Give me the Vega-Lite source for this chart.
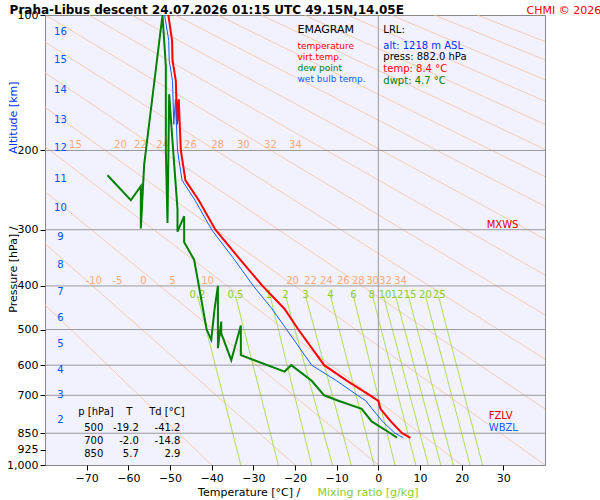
{
"$schema":"https://vega.github.io/schema/vega-lite/v6.json",
"autosize":"none","width":500,"height":450,
"padding":{"left":45,"top":15,"right":55,"bottom":35},
"background":"white",
"view":{"fill":"#f2f2ff","stroke":"#888"},
"encoding":{
 "x":{"field":"t","type":"quantitative","scale":{"domain":[-80,40],"nice":false,"zero":false},"axis":{"values":[-70,-60,-50,-40,-30,-20,-10,0,10,20,30],"title":null,"grid":false,"labelFont":"DejaVu Sans","labelFontSize":11,"labelColor":"black","tickColor":"black","domain":false}},
 "y":{"field":"p","type":"quantitative","scale":{"type":"log","domain":[100,1000],"reverse":true,"nice":false},"axis":{"values":[100,200,300,400,500,600,700,850,925,1000],"title":null,"grid":false,"labelFont":"DejaVu Sans","labelFontSize":11,"labelColor":"black","tickColor":"black","domain":false}}
},
"layer":[
 {"data":{"values":[
  {"g":"a1","t":-40,"p":1000},{"g":"a1","t":-152.4,"p":100},
  {"g":"a2","t":-20,"p":1000},{"g":"a2","t":-142,"p":100},
  {"g":"a3","t":0,"p":1000},{"g":"a3","t":-131.7,"p":100},
  {"g":"a4","t":20,"p":1000},{"g":"a4","t":-121.3,"p":100},
  {"g":"a5","t":40,"p":1000},{"g":"a5","t":-111,"p":100},
  {"g":"a6","t":60,"p":1000},{"g":"a6","t":-100.6,"p":100},
  {"g":"a7","t":80,"p":1000},{"g":"a7","t":-90.2,"p":100},
  {"g":"a8","t":100,"p":1000},{"g":"a8","t":-79.9,"p":100},
  {"g":"a9","t":120,"p":1000},{"g":"a9","t":-69.5,"p":100},
  {"g":"a10","t":140,"p":1000},{"g":"a10","t":-59.2,"p":100},
  {"g":"a11","t":160,"p":1000},{"g":"a11","t":-48.8,"p":100},
  {"g":"a12","t":180,"p":1000},{"g":"a12","t":-38.5,"p":100},
  {"g":"a13","t":200,"p":1000},{"g":"a13","t":-28.1,"p":100},
  {"g":"a14","t":220,"p":1000},{"g":"a14","t":-17.8,"p":100},
  {"g":"a15","t":240,"p":1000},{"g":"a15","t":-7.4,"p":100},
  {"g":"a16","t":260,"p":1000},{"g":"a16","t":3,"p":100},
  {"g":"a17","t":280,"p":1000},{"g":"a17","t":13.4,"p":100},
  {"g":"a18","t":300,"p":1000},{"g":"a18","t":23.7,"p":100}
 ]},"mark":{"type":"line","clip":true,"color":"#f5c09a","strokeWidth":0.8},"encoding":{"detail":{"field":"g"}}},
 {"data":{"values":[
  {"g":"w1","t":-43.4,"p":420},{"g":"w1","t":-33,"p":1000},
  {"g":"w2","t":-34.3,"p":420},{"g":"w2","t":-24,"p":1000},
  {"g":"w3","t":-26,"p":420},{"g":"w3","t":-16,"p":1000},
  {"g":"w4","t":-22.3,"p":420},{"g":"w4","t":-11,"p":1000},
  {"g":"w5","t":-17.5,"p":420},{"g":"w5","t":-6.5,"p":1000},
  {"g":"w6","t":-11.5,"p":420},{"g":"w6","t":-1,"p":1000},
  {"g":"w7","t":-6,"p":420},{"g":"w7","t":4,"p":1000},
  {"g":"w8","t":-1.4,"p":420},{"g":"w8","t":9,"p":1000},
  {"g":"w9","t":1.2,"p":420},{"g":"w9","t":12,"p":1000},
  {"g":"w10","t":4.1,"p":420},{"g":"w10","t":15,"p":1000},
  {"g":"w11","t":7.2,"p":420},{"g":"w11","t":18,"p":1000},
  {"g":"w12","t":11.3,"p":420},{"g":"w12","t":22,"p":1000},
  {"g":"w13","t":14.4,"p":420},{"g":"w13","t":25,"p":1000}
 ]},"mark":{"type":"line","clip":true,"color":"#a6d94a","strokeWidth":0.9},"encoding":{"detail":{"field":"g"}}},
 {"data":{"values":[{"p":200},{"p":300},{"p":400},{"p":500},{"p":600},{"p":700},{"p":850}]},
  "mark":{"type":"rule","color":"#999","strokeWidth":1},"encoding":{"x":null}},
 {"data":{"values":[{"t":0}]},"mark":{"type":"rule","color":"#999","strokeWidth":1},"encoding":{"y":null}},
 {"data":{"values":[
  {"t":-72.7,"p":200,"s":"15"},{"t":-61.9,"p":200,"s":"20"},{"t":-57.1,"p":200,"s":"22"},{"t":-51.8,"p":200,"s":"24"},{"t":-45.1,"p":200,"s":"26"},{"t":-38.6,"p":200,"s":"28"},{"t":-32.4,"p":200,"s":"30"},{"t":-25.9,"p":200,"s":"32"},{"t":-19.9,"p":200,"s":"34"},
  {"t":-68.3,"p":400,"s":"-10"},{"t":-62.6,"p":400,"s":"-5"},{"t":-56.4,"p":400,"s":"0"},{"t":-49.4,"p":400,"s":"5"},{"t":-41,"p":400,"s":"10"},{"t":-20.6,"p":400,"s":"20"},{"t":-16.3,"p":400,"s":"22"},{"t":-12.5,"p":400,"s":"24"},{"t":-8.4,"p":400,"s":"26"},{"t":-4.8,"p":400,"s":"28"},{"t":-1.4,"p":400,"s":"30"},{"t":1.7,"p":400,"s":"32"},{"t":5.3,"p":400,"s":"34"}
 ]},"mark":{"type":"text","color":"#f5a878","fontSize":10,"font":"DejaVu Sans","baseline":"bottom"},"encoding":{"text":{"field":"s"}}},
 {"data":{"values":[
  {"t":-43.4,"p":418,"s":"0.2"},{"t":-34.3,"p":418,"s":"0.5"},{"t":-26.3,"p":418,"s":"1"},{"t":-22.3,"p":418,"s":"2"},{"t":-17.5,"p":418,"s":"3"},{"t":-11.5,"p":418,"s":"4"},{"t":-6,"p":418,"s":"6"},{"t":-1.6,"p":418,"s":"8"},{"t":1.6,"p":418,"s":"10"},{"t":4.5,"p":418,"s":"12"},{"t":7.6,"p":418,"s":"15"},{"t":11.3,"p":418,"s":"20"},{"t":14.6,"p":418,"s":"25"}
 ]},"mark":{"type":"text","color":"#8acb2a","fontSize":10,"font":"DejaVu Sans"},"encoding":{"text":{"field":"s"}}},
 {"data":{"values":[
  {"t":-76.3,"p":109,"s":"16"},{"t":-76.3,"p":126,"s":"15"},{"t":-76.3,"p":147,"s":"14"},{"t":-76.3,"p":171,"s":"13"},{"t":-76.3,"p":198,"s":"12"},{"t":-76.3,"p":231,"s":"11"},{"t":-76.3,"p":269,"s":"10"},{"t":-76.3,"p":311,"s":"9"},{"t":-76.3,"p":360,"s":"8"},{"t":-76.3,"p":413,"s":"7"},{"t":-76.3,"p":472,"s":"6"},{"t":-76.3,"p":538,"s":"5"},{"t":-76.3,"p":616,"s":"4"},{"t":-76.3,"p":698,"s":"3"},{"t":-76.3,"p":793,"s":"2"}
 ]},"mark":{"type":"text","color":"#0050ff","fontSize":10,"font":"DejaVu Sans"},"encoding":{"text":{"field":"s"}}},
 {"data":{"values":[
  {"t":-50.4,"p":100},{"t":-49.5,"p":114},{"t":-49.4,"p":126},{"t":-48.6,"p":140},{"t":-47.9,"p":154},{"t":-48.3,"p":175},{"t":-47.4,"p":200},{"t":-46.3,"p":233},{"t":-43.1,"p":258},{"t":-39.1,"p":300},{"t":-33.1,"p":350},{"t":-27.8,"p":400},{"t":-22.5,"p":450},{"t":-19.2,"p":500},{"t":-13,"p":600},{"t":-7.5,"p":650},{"t":-2,"p":700},{"t":0,"p":720},{"t":0.5,"p":750},{"t":3,"p":800},{"t":5.7,"p":850},{"t":7.7,"p":870}
 ]},"mark":{"type":"line","color":"#ff0000","strokeWidth":2}},
 {"data":{"values":[
  {"t":-51.3,"p":100},{"t":-50.3,"p":114},{"t":-50.2,"p":126},{"t":-49.4,"p":140},{"t":-48.7,"p":154},{"t":-49.1,"p":175},{"t":-48.2,"p":200},{"t":-47.1,"p":233},{"t":-44,"p":258},{"t":-40,"p":300},{"t":-34.5,"p":350},{"t":-30,"p":400},{"t":-25.5,"p":450},{"t":-22,"p":500},{"t":-16,"p":600},{"t":-10,"p":650},{"t":-5,"p":700},{"t":-3,"p":720},{"t":-1.5,"p":750},{"t":1,"p":800},{"t":4,"p":850},{"t":6,"p":870}
 ]},"mark":{"type":"line","color":"#1060ff","strokeWidth":1}},
 {"data":{"values":[
  {"t":-51.8,"p":100},{"t":-51,"p":130},{"t":-50.2,"p":150},{"t":-49.6,"p":180},{"t":-51,"p":200},{"t":-56.2,"p":215},{"t":-65,"p":227},{"t":-57,"p":240},{"t":-59.4,"p":258},{"t":-48.2,"p":270},{"t":-46.6,"p":280},{"t":-50.6,"p":290},{"t":-57,"p":298},{"t":-48.2,"p":303},{"t":-46.6,"p":320},{"t":-44.2,"p":350},{"t":-38.5,"p":400},{"t":-39.3,"p":450},{"t":-37.7,"p":480},{"t":-33,"p":490},{"t":-41.2,"p":500},{"t":-37.7,"p":510},{"t":-40.1,"p":527},{"t":-38.5,"p":550},{"t":-33,"p":570},{"t":-35.3,"p":585},{"t":-20.9,"p":600},{"t":-22.5,"p":620},{"t":-16,"p":650},{"t":-13,"p":700},{"t":-9.6,"p":720},{"t":-4,"p":750},{"t":-1.6,"p":800},{"t":2.9,"p":850},{"t":4.5,"p":870}
 ]},"mark":{"type":"line","color":"#008000","strokeWidth":2}},
 {"data":{"values":[
  {"t":-19.4,"p":108,"s":"EMAGRAM","c":"black","f":11},
  {"t":-19.4,"p":117,"s":"temperature","c":"red","f":9},
  {"t":-19.4,"p":124,"s":"virt.temp.","c":"red","f":9},
  {"t":-19.4,"p":131,"s":"dew point","c":"green","f":9},
  {"t":-19.4,"p":139,"s":"wet bulb temp.","c":"#1060ff","f":9},
  {"t":1.2,"p":108,"s":"LRL:","c":"black","f":10},
  {"t":1.2,"p":117,"s":"alt: 1218 m ASL","c":"#0030ff","f":10},
  {"t":1.2,"p":124,"s":"press: 882.0 hPa","c":"black","f":10},
  {"t":1.2,"p":132,"s":"temp: 8.4 °C","c":"red","f":10},
  {"t":1.2,"p":140,"s":"dwpt: 4.7 °C","c":"green","f":10},
  {"t":26,"p":293,"s":"MXWS","c":"#dd0000","f":10},
  {"t":26.5,"p":778,"s":"FZLV","c":"#dd0000","f":10},
  {"t":26.5,"p":828,"s":"WBZL","c":"#1060ff","f":10},
  {"t":-72,"p":762,"s":"p [hPa]","c":"black","f":10},
  {"t":-60.5,"p":762,"s":"T","c":"black","f":10},
  {"t":-55,"p":762,"s":"Td [°C]","c":"black","f":10}
 ]},"mark":{"type":"text","align":"left","font":"DejaVu Sans"},"encoding":{"text":{"field":"s"},"color":{"field":"c","type":"nominal","scale":null},"size":{"field":"f","type":"quantitative","scale":null}}},
 {"data":{"values":[{"t":-88.5,"p":97.5,"s":"Praha-Libus   descent   24.07.2026 01:15 UTC   49.15N,14.05E"}]},
  "mark":{"type":"text","align":"left","font":"DejaVu Sans","fontSize":12,"fontWeight":"bold","color":"black"},"encoding":{"text":{"field":"s"}}},
 {"data":{"values":[
  {"t":-66,"p":826,"s":"500"},{"t":-57.5,"p":826,"s":"-19.2"},{"t":-47.5,"p":826,"s":"-41.2"},
  {"t":-66,"p":884,"s":"700"},{"t":-57.5,"p":884,"s":"-2.0"},{"t":-47.5,"p":884,"s":"-14.8"},
  {"t":-66,"p":943,"s":"850"},{"t":-57.5,"p":943,"s":"5.7"},{"t":-47.5,"p":943,"s":"2.9"}
 ]},"mark":{"type":"text","align":"right","font":"DejaVu Sans","fontSize":10,"color":"black"},"encoding":{"text":{"field":"s"}}},
 {"data":{"values":[
  {"t":-31,"p":1154,"s":"Temperature [°C]  /","c":"black","a":0},
  {"t":-2.5,"p":1154,"s":"Mixing ratio [g/kg]","c":"#8acb2a","a":0},
  {"t":-87.5,"p":368,"s":"Pressure [hPa]  /","c":"black","a":270},
  {"t":-87.5,"p":169,"s":"Altitude [km]","c":"#0030ff","a":270}
 ]},"mark":{"type":"text","font":"DejaVu Sans","fontSize":11},"encoding":{"text":{"field":"s"},"color":{"field":"c","type":"nominal","scale":null},"angle":{"field":"a","type":"quantitative","scale":null}}},
 {"data":{"values":[{"t":53.5,"p":98,"s":"CHMI © 2026"}]},"mark":{"type":"text","align":"right","font":"DejaVu Sans","fontSize":11,"color":"red"},"encoding":{"text":{"field":"s"}}}
]
}
